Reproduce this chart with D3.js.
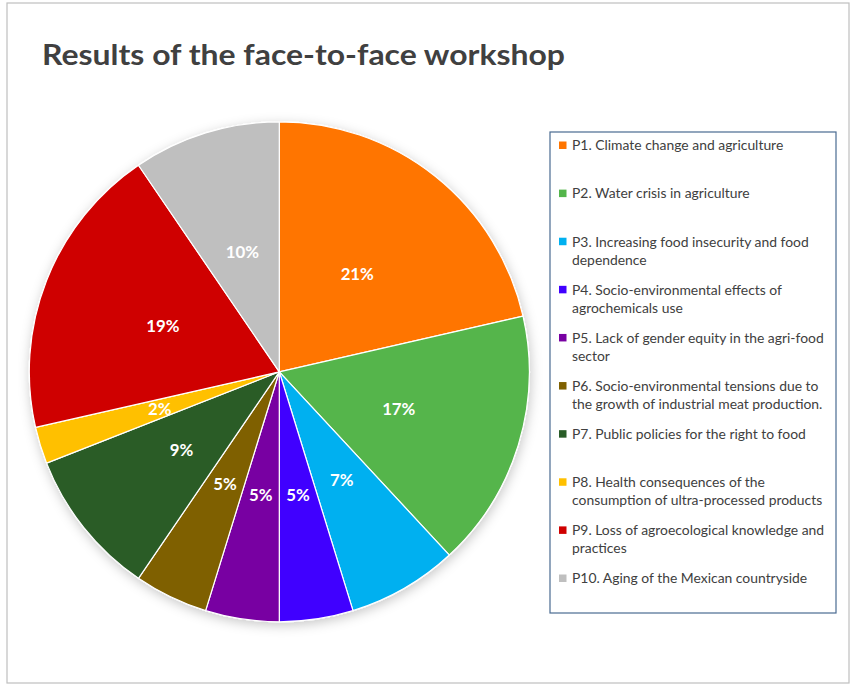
<!DOCTYPE html>
<html>
<head>
<meta charset="utf-8">
<script src="https://cdn.jsdelivr.net/npm/d3@7"></script>
<style>
  html, body { margin: 0; padding: 0; background: #ffffff; }
  svg { display: block; }
</style>
</head>
<body>
<svg id="chart" width="855" height="689"></svg>
<script>
// ---- Data ----
const title = "Results of the face-to-face workshop";
const categories = [
  "P1. Climate change and agriculture",
  "P2. Water crisis in agriculture",
  "P3. Increasing food insecurity and food\ndependence",
  "P4. Socio-environmental effects of\nagrochemicals use",
  "P5. Lack of gender equity in the agri-food\nsector",
  "P6. Socio-environmental tensions due to\nthe growth of industrial meat production.",
  "P7. Public policies for the right to food",
  "P8. Health consequences of the\nconsumption of ultra-processed products",
  "P9. Loss of agroecological knowledge and\npractices",
  "P10. Aging of the Mexican countryside"
];
const values = [9, 7, 3, 2, 2, 2, 4, 1, 8, 4];
const percentLabels = ["21%", "17%", "7%", "5%", "5%", "5%", "9%", "2%", "19%", "10%"];
const colors = ["#FF7500", "#54B54B", "#00B0F0", "#4000FF", "#7800A2",
                "#7F6000", "#295C27", "#FFC000", "#CF0000", "#BFBFBF"];

// ---- Layout ----
const svg = d3.select("#chart");
const font = "Lato, 'Open Sans', 'DejaVu Sans', sans-serif";

// outer chart frame
svg.append("rect")
  .attr("x", 7).attr("y", 3).attr("width", 842).attr("height", 680)
  .attr("fill", "#ffffff").attr("stroke", "#BFBFBF").attr("stroke-width", 1.2);

// title
svg.append("text")
  .attr("x", 42).attr("y", 65)
  .attr("font-family", font).attr("font-weight", 700).attr("font-size", 29)
  .attr("fill", "#404040")
  .attr("textLength", 523).attr("lengthAdjust", "spacingAndGlyphs")
  .text(title);

// shadow filter
const defs = svg.append("defs");
const f = defs.append("filter").attr("id", "shadow")
  .attr("x", "-20%").attr("y", "-20%").attr("width", "140%").attr("height", "140%");
f.append("feDropShadow").attr("dx", 1).attr("dy", 3).attr("stdDeviation", 6)
  .attr("flood-color", "#000").attr("flood-opacity", 0.22);

const cx = 279.3, cy = 371.8, radius = 250;
const pie = d3.pie().sort(null).value(d => d)
  .startAngle(0).endAngle(2 * Math.PI);
const arcs = pie(values);
const arc = d3.arc().innerRadius(0).outerRadius(radius);
const labelArc = d3.arc().innerRadius(0).outerRadius(radius);

const g = svg.append("g").attr("transform", `translate(${cx},${cy})`);
const sliceG = g.append("g").attr("filter", "url(#shadow)");
sliceG.selectAll("path").data(arcs).enter().append("path")
  .attr("d", arc)
  .attr("fill", (d, i) => colors[i])
  .attr("stroke", "#ffffff").attr("stroke-width", 1.2)
  .attr("stroke-linejoin", "round");

g.selectAll("text.pct").data(arcs).enter().append("text")
  .attr("class", "pct")
  .attr("transform", d => `translate(${labelArc.centroid(d)})`)
  .attr("text-anchor", "middle").attr("dy", "0.36em")
  .attr("font-family", font).attr("font-weight", 700).attr("font-size", 16.8)
  .attr("fill", "#ffffff")
  .text((d, i) => percentLabels[i]);

// legend
const legX = 550, legY = 132, legW = 286, legH = 481;
svg.append("rect")
  .attr("x", legX).attr("y", legY).attr("width", legW).attr("height", legH)
  .attr("fill", "#ffffff").attr("stroke", "#4A6B91").attr("stroke-width", 1.2);

const itemY = d3.scalePoint().domain(d3.range(categories.length))
  .range([145.5, 578.5]);

const items = svg.append("g").selectAll("g").data(categories).enter().append("g")
  .attr("transform", (d, i) => `translate(0,${itemY(i)})`);
items.append("rect")
  .attr("x", 559).attr("y", -4).attr("width", 7.5).attr("height", 7.5)
  .attr("fill", (d, i) => colors[i]);
items.each(function(d) {
  const t = d3.select(this).append("text")
    .attr("font-family", font).attr("font-size", 13.9)
    .attr("fill", "#404040");
  d.split("\n").forEach((line, j) => {
    t.append("tspan").attr("x", 572).attr("y", j * 18).attr("dy", "0.35em").text(line);
  });
});
</script>
</body>
</html>
